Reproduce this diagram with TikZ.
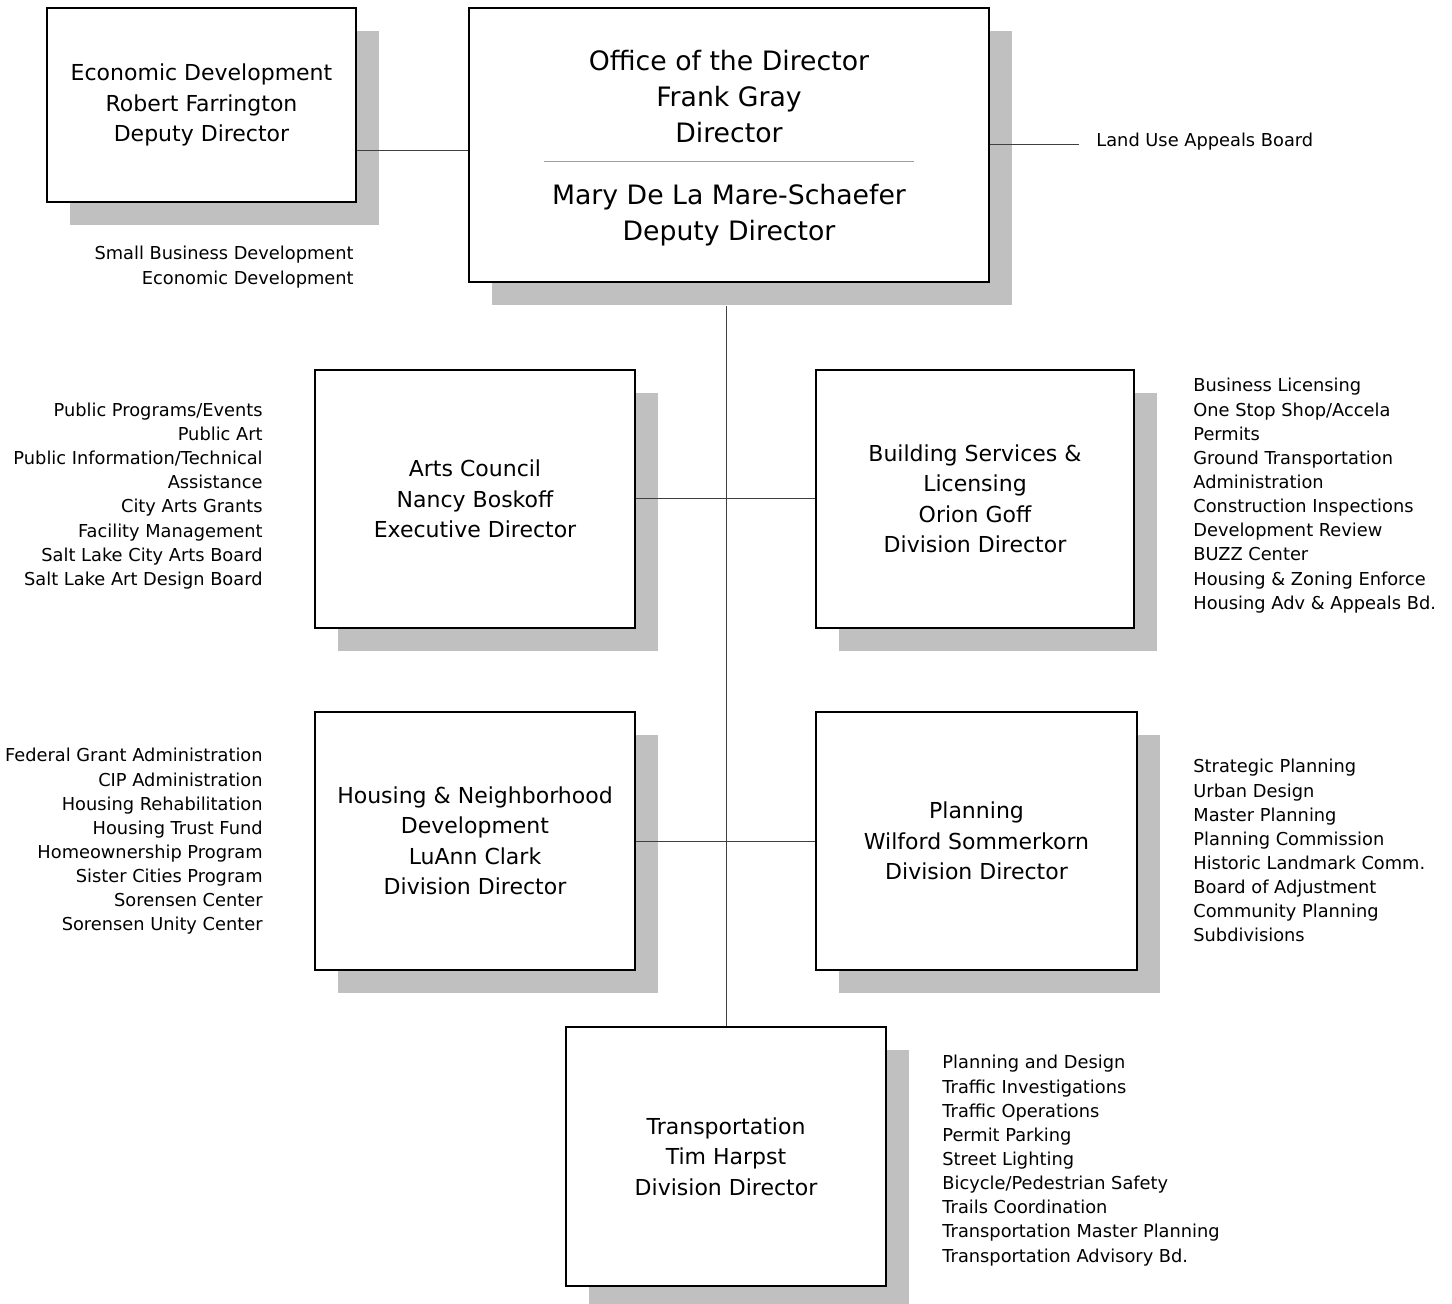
\documentclass[tikz,border=0pt]{standalone}
\usepackage{fontspec}
\setmainfont{DejaVu Sans}
\usepackage{tikz}
\usetikzlibrary{shadows}
\definecolor{shadegray}{HTML}{C0C0C0}
\definecolor{linkgray}{HTML}{404040}
\definecolor{rulegray}{HTML}{A0A0A0}

\begin{document}
\begin{tikzpicture}[x=0.5pt, y=-0.5pt,
  unit/.style={draw, line width=0.85pt, fill=white, align=center, inner sep=0pt,
    font=\fontsize{11}{15.25}\selectfont,
    drop shadow={fill=shadegray, opacity=1, shadow xshift=11.5pt, shadow yshift=-11.5pt}},
  duties/.style={inner sep=0pt, font=\fontsize{8.9}{12.07}\selectfont},
  link/.style={draw=linkgray, line width=0.5pt}]
  \useasboundingbox (0,0) rectangle (1452,1304);

  \node (Econ) [unit, minimum width=154.5pt, minimum height=97pt] at (201.5,105)
    {Economic Development\\Robert Farrington\\Deputy Director};
  \node (Dir) [unit, minimum width=260pt, minimum height=137pt,
    font=\fontsize{13.35}{18}\selectfont] at (729,145)
    {\rule{0pt}{12.8pt}Office of the Director\\Frank Gray\\Director\\[-8pt]
     \textcolor{rulegray}{\rule{185pt}{0.5pt}}\\[3pt]
     Mary De La Mare-Schaefer\\Deputy Director};
  \node (Arts) [unit, minimum width=160pt, minimum height=129pt] at (475,499)
    {Arts Council\\Nancy Boskoff\\Executive Director};
  \node (Build) [unit, minimum width=159pt, minimum height=129pt] at (975,499)
    {Building Services \&\\Licensing\\Orion Goff\\Division Director};
  \node (Hous) [unit, minimum width=160pt, minimum height=129pt] at (475,841)
    {Housing \& Neighborhood\\Development\\LuAnn Clark\\Division Director};
  \node (Plan) [unit, minimum width=160.5pt, minimum height=129pt] at (976.5,841)
    {Planning\\Wilford Sommerkorn\\Division Director};
  \node (Trans) [unit, minimum width=160pt, minimum height=129.5pt] at (726,1156.5)
    {Transportation\\Tim Harpst\\Division Director};

  \node (EconDuties) [duties, align=right, anchor=north east] at (354,246)
    {Small Business Development\\Economic Development};
  \node (LandUse) [duties, anchor=base west, inner xsep=8.5pt] at (1079,147)
    {Land Use Appeals Board};
  \node (ArtsDuties) [duties, align=right, anchor=north east] at (263,402.5)
    {Public Programs/Events\\Public Art\\Public Information/Technical\\Assistance\\
     City Arts Grants\\Facility Management\\Salt Lake City Arts Board\\Salt Lake Art Design Board};
  \node (BuildDuties) [duties, align=left, anchor=north west] at (1193,378)
    {Business Licensing\\One Stop Shop/Accela\\Permits\\Ground Transportation\\Administration\\
     Construction Inspections\\Development Review\\BUZZ Center\\Housing \& Zoning Enforce\\
     Housing Adv \& Appeals Bd.};
  \node (HousDuties) [duties, align=right, anchor=north east] at (263,748)
    {Federal Grant Administration\\CIP Administration\\Housing Rehabilitation\\Housing Trust Fund\\
     Homeownership Program\\Sister Cities Program\\Sorensen Center\\Sorensen Unity Center};
  \node (PlanDuties) [duties, align=left, anchor=north west] at (1193,759)
    {Strategic Planning\\Urban Design\\Master Planning\\Planning Commission\\
     Historic Landmark Comm.\\Board of Adjustment\\Community Planning\\Subdivisions};
  \node (TransDuties) [duties, align=left, anchor=north west] at (942,1055)
    {Planning and Design\\Traffic Investigations\\Traffic Operations\\Permit Parking\\
     Street Lighting\\Bicycle/Pedestrian Safety\\Trails Coordination\\
     Transportation Master Planning\\Transportation Advisory Bd.};

  \coordinate (EconLink) at ([yshift=-3pt]Dir.west);
  \coordinate (DirFoot) at ([yshift=-11.5pt]Dir.south);
  \draw[link] (EconLink) -- (EconLink -| Econ.east);
  \draw[link] (Dir.east) -- (Dir.east -| LandUse.west);
  \draw[link] (DirFoot -| Trans.north) -- (Trans.north);
  \draw[link] (Arts.east) -- (Build.west);
  \draw[link] (Hous.east) -- (Plan.west);
\end{tikzpicture}
\end{document}
